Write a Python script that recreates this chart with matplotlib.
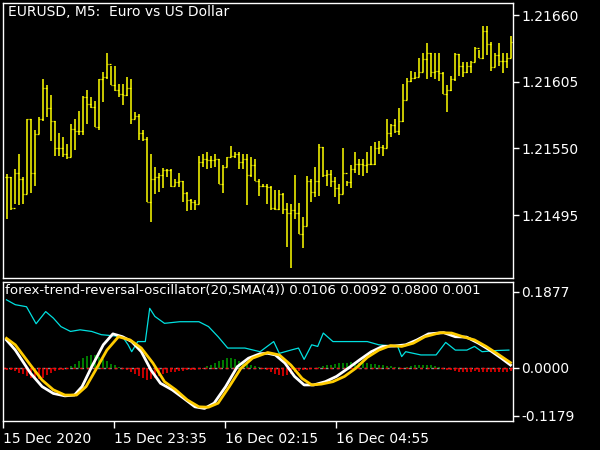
import matplotlib
matplotlib.use("Agg")
import matplotlib.pyplot as plt
import numpy as np

high = [1.21529,1.21526,1.21533,1.21545,1.21526,1.21574,1.21574,1.21565,1.21576,1.21607,
        1.21602,1.21594,1.21573,1.21563,1.21559,1.21554,1.21570,1.21574,1.21581,1.21593,
        1.21598,1.21592,1.21589,1.21607,1.21613,1.21629,1.21618,1.21618,1.21603,1.21603,
        1.21609,1.21607,1.21580,1.21578,1.21565,1.21559,1.21545,1.21535,1.21530,1.21534,
        1.21533,1.21533,1.21525,1.21530,1.21523,1.21514,1.21508,1.21507,1.21544,1.21545,
        1.21547,1.21544,1.21545,1.21541,1.21536,1.21543,1.21552,1.21547,1.21547,1.21545,
        1.21545,1.21543,1.21541,1.21525,1.21521,1.21521,1.21519,1.21516,1.21516,1.21513,
        1.21505,1.21504,1.21528,1.21505,1.21493,1.21527,1.21525,1.21535,1.21554,1.21551,
        1.21532,1.21532,1.21526,1.21521,1.21550,1.21523,1.21536,1.21547,1.21541,1.21541,
        1.21547,1.21552,1.21555,1.21556,1.21553,1.21574,1.21570,1.21574,1.21583,1.21603,
        1.21608,1.21614,1.21613,1.21625,1.21629,1.21637,1.21629,1.21629,1.21629,1.21613,
        1.21602,1.21610,1.21629,1.21628,1.21621,1.21621,1.21622,1.21634,1.21631,1.21651,
        1.21651,1.21638,1.21629,1.21637,1.21629,1.21629,1.21643]
low = [1.21492,1.21499,1.21504,1.21503,1.21504,1.21512,1.21513,1.21519,1.21562,1.21573,
       1.21576,1.21556,1.21544,1.21544,1.21543,1.21541,1.21543,1.21549,1.21561,1.21561,
       1.21570,1.21583,1.21568,1.21565,1.21588,1.21607,1.21602,1.21597,1.21592,1.21586,
       1.21593,1.21570,1.21574,1.21557,1.21556,1.21506,1.21489,1.21512,1.21514,1.21517,
       1.21526,1.21518,1.21519,1.21518,1.21506,1.21498,1.21499,1.21499,1.21504,1.21535,
       1.21533,1.21534,1.21535,1.21521,1.21513,1.21535,1.21543,1.21542,1.21533,1.21533,
       1.21503,1.21526,1.21523,1.21511,1.21518,1.21504,1.21499,1.21499,1.21499,1.21496,
       1.21469,1.21451,1.21492,1.21479,1.21468,1.21486,1.21506,1.21510,1.21511,1.21526,
       1.21519,1.21518,1.21510,1.21504,1.21512,1.21519,1.21517,1.21530,1.21528,1.21527,
       1.21530,1.21536,1.21536,1.21545,1.21544,1.21550,1.21559,1.21563,1.21561,1.21572,
       1.21590,1.21605,1.21607,1.21609,1.21613,1.21607,1.21609,1.21607,1.21606,1.21595,
       1.21580,1.21597,1.21606,1.21610,1.21609,1.21612,1.21612,1.21621,1.21625,1.21624,
       1.21627,1.21614,1.21617,1.21618,1.21612,1.21616,1.21625]
close = [1.21526,1.21501,1.21530,1.21525,1.21512,1.21574,1.21530,1.21562,1.21574,1.21600,
         1.21583,1.21573,1.21550,1.21550,1.21545,1.21543,1.21566,1.21564,1.21564,1.21592,
         1.21587,1.21584,1.21568,1.21607,1.21609,1.21620,1.21602,1.21598,1.21595,1.21594,
         1.21600,1.21574,1.21577,1.21563,1.21558,1.21506,1.21525,1.21526,1.21528,1.21532,
         1.21532,1.21519,1.21522,1.21523,1.21513,1.21507,1.21506,1.21504,1.21539,1.21541,
         1.21540,1.21540,1.21541,1.21521,1.21535,1.21543,1.21544,1.21545,1.21539,1.21541,
         1.21528,1.21536,1.21523,1.21519,1.21519,1.21518,1.21501,1.21500,1.21512,1.21500,
         1.21497,1.21499,1.21497,1.21479,1.21486,1.21523,1.21514,1.21523,1.21551,1.21528,
         1.21529,1.21523,1.21517,1.21512,1.21530,1.21522,1.21533,1.21537,1.21537,1.21536,
         1.21537,1.21537,1.21550,1.21551,1.21550,1.21563,1.21569,1.21564,1.21573,1.21590,
         1.21606,1.21608,1.21609,1.21613,1.21624,1.21629,1.21613,1.21614,1.21612,1.21595,
         1.21598,1.21607,1.21628,1.21618,1.21613,1.21618,1.21621,1.21633,1.21625,1.21647,
         1.21636,1.21617,1.21627,1.21622,1.21622,1.21625,1.21638]
open_ = [close[0]] + close[:-1]

white_x = [0,2.2,6,8.9,11.7,14.6,17,18.9,21.3,24.2,26.6,29,31.3,33.7,36.1,38.5,41.4,44.3,47.1,49.5,
           51.9,54.8,57.7,60.5,63.4,65.3,67.2,69.6,72,74.4,76.8,79.7,82.5,85.4,88.3,91.2,94,96.9,99.8,
           102.6,105.5,109.3,112.2,115,118,120.8,123.7,126]
white_y = [0.069,0.044,-0.013,-0.046,-0.063,-0.069,-0.067,-0.046,0.003,0.057,0.084,0.077,0.065,0.040,
           -0.005,-0.038,-0.054,-0.075,-0.096,-0.100,-0.087,-0.046,0.003,0.024,0.035,0.036,0.032,0.012,
           -0.021,-0.042,-0.042,-0.034,-0.021,-0.001,0.020,0.040,0.053,0.054,0.057,0.069,0.084,0.087,
           0.077,0.076,0.061,0.044,0.024,0.007]
yellow_x = [0,2.2,6,8.9,11.7,14.6,17.5,19.9,22.3,25.1,28,30.9,33.7,36.6,39.5,42.3,45.2,48.1,50.5,52.9,
            55.7,58.6,61.5,65.3,68.2,71.1,73.9,76.3,78.7,81.6,84.5,87.3,90.2,93.1,96,98.8,101.7,104.6,
            108.4,111.3,114.1,117,119.9,122.7,126]
yellow_y = [0.073,0.057,0.007,-0.030,-0.054,-0.067,-0.067,-0.046,-0.005,0.044,0.077,0.069,0.049,0.012,
            -0.034,-0.054,-0.079,-0.096,-0.097,-0.087,-0.046,-0.001,0.024,0.038,0.032,0.007,-0.026,-0.042,
            -0.040,-0.034,-0.021,-0.001,0.026,0.044,0.055,0.053,0.061,0.077,0.087,0.086,0.077,0.069,0.053,
            0.035,0.013]
cyan_x = [0,2.2,5,7.4,9.8,11.7,13.6,16,18.4,21.3,23.7,27,29,30.4,31.3,32.8,34.7,35.8,37.1,39.5,43.3,
          48.1,50.5,52.9,55.3,59.6,63.4,66.8,68.2,71.1,73,74.4,76.3,77.8,79.2,81.6,86.4,90.2,93.1,97.8,
          98.8,99.8,103.6,107.4,109.8,112.2,115.1,117,118.9,122.7,125.6]
cyan_y = [0.168,0.156,0.151,0.109,0.139,0.123,0.102,0.090,0.094,0.090,0.082,0.079,0.077,0.057,0.040,
          0.065,0.065,0.147,0.127,0.110,0.114,0.114,0.102,0.077,0.049,0.049,0.040,0.065,0.036,0.044,
          0.049,0.021,0.057,0.053,0.086,0.065,0.065,0.065,0.057,0.053,0.028,0.040,0.032,0.032,0.063,
          0.044,0.044,0.053,0.040,0.043,0.044]
hist = [-0.004,-0.006,-0.008,-0.012,-0.016,-0.020,-0.024,-0.026,-0.028,-0.024,-0.018,-0.012,-0.008,-0.005,-0.004,-0.003,
        0.004,0.010,0.018,0.024,0.030,0.033,0.032,0.028,0.022,0.016,0.010,0.006,0.003,
        -0.003,-0.006,-0.010,-0.015,-0.020,-0.026,-0.030,-0.028,-0.024,-0.020,-0.016,-0.013,-0.011,-0.009,-0.008,-0.007,-0.006,-0.005,-0.004,-0.003,-0.002,
        0.004,0.008,0.012,0.016,0.020,0.024,0.025,0.022,0.018,0.014,0.010,0.007,0.004,0.002,
        -0.003,-0.006,-0.010,-0.014,-0.018,-0.019,-0.017,-0.014,-0.011,-0.008,-0.006,-0.004,-0.003,-0.002,
        0.002,0.004,0.006,0.008,0.010,0.011,0.012,0.013,0.014,0.014,0.013,0.012,0.011,0.010,0.009,0.008,0.006,0.005,0.004,0.003,
        0.002,-0.003,0.003,0.005,0.006,0.007,0.008,0.007,0.006,0.004,0.002,
        -0.002,-0.004,-0.006,-0.008,-0.009,-0.010,-0.010,-0.009,-0.008,-0.009,-0.010,-0.011,-0.010,-0.009,-0.010,-0.011,-0.010,-0.008]

price_ticks = [1.21495, 1.21550, 1.21605, 1.21660]
osc_ticks = [-0.1179, 0.0, 0.1877]
time_pos = [-0.875, 26.875, 54.625, 82.375]
time_labels = ["15 Dec 2020", "15 Dec 23:35", "16 Dec 02:15", "16 Dec 04:55"]

W, H = 600, 450
fig = plt.figure(figsize=(6, 4.5), dpi=100, facecolor="black")
def box(x0, y0, x1, y1):
    return [x0 / W, 1 - y1 / H, (x1 - x0) / W, (y1 - y0) / H]
ax = fig.add_axes(box(3, 3, 513, 278))
ax2 = fig.add_axes(box(3, 282, 513, 421))
for a in (ax, ax2):
    a.set_facecolor("black")
    for s in a.spines.values():
        s.set_color("white"); s.set_linewidth(1)
    a.yaxis.tick_right()
    a.tick_params(colors="white", labelsize=10, length=4, width=1, direction="out", pad=2)
    a.set_xlim(-0.875, 126.625)

n = len(close)
xs = np.arange(n)
lw = 1.1
ax.vlines(xs, low, high, color="#ffff00", lw=lw)
ax.hlines(open_, xs - 0.35, xs, color="#ffff00", lw=0.9)
ax.hlines(close, xs, xs + 0.35, color="#ffff00", lw=0.9)
ax.set_ylim(1.214430, 1.216700)
ax.set_yticks(price_ticks)
ax.set_yticklabels([f"{v:.5f}" for v in price_ticks])
ax.set_xticks([])
ax.text(0.01, 0.993, "EURUSD, M5:  Euro vs US Dollar", transform=ax.transAxes,
        color="white", fontsize=10, va="top", ha="left")

cols = ["#00a000" if v > 0 else "#ff0000" for v in hist]
ax2.axhline(0, color="#909090", lw=1, ls=(0, (2, 2)))
ax2.vlines(xs, 0, hist, colors=cols, lw=1.1)
ax2.hlines(0, -1, 127, color="#ff0000", lw=1, ls=(0, (2, 3)), alpha=0.8)
ax2.plot(cyan_x, cyan_y, color="#00e0e0", lw=0.9)
ax2.plot(white_x, white_y, color="white", lw=2.0)
ax2.plot(yellow_x, yellow_y, color="#ffcc00", lw=2.0)
ax2.set_ylim(-0.131, 0.212)
ax2.set_yticks(osc_ticks)
ax2.set_yticklabels(["-0.1179", "0.0000", "0.1877"])
ax2.set_xticks(time_pos)
ax2.set_xticklabels(time_labels)
for lab in ax2.get_xticklabels():
    lab.set_ha("left")
ax2.tick_params(axis="x", length=5, pad=3)
ax2.text(0.003, 0.985, "forex-trend-reversal-oscillator(20,SMA(4)) 0.0106 0.0092 0.0800 0.001",
         transform=ax2.transAxes, color="white", fontsize=9.6, va="top", ha="left", clip_on=True)
fig.savefig("out.png", dpi=100, facecolor="black")
